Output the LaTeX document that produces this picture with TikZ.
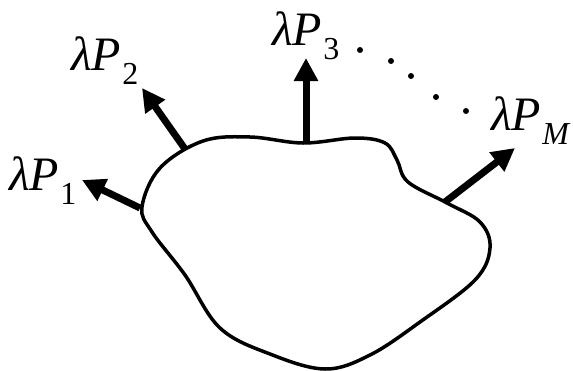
\documentclass[tikz,border=0pt]{standalone}
\usepackage{fontspec}
\setmainfont{Liberation Serif}
\usetikzlibrary{arrows.meta}
\newcommand\lamP[1]{\fontsize{48}{48}\selectfont\itshape λP\/\upshape\kern1pt\raisebox{-14pt}{\fontsize{32}{32}\selectfont #1}}
\tikzset{
  force/.style={line width=7pt,-{Triangle[length=23pt,width=23pt]}},
  blob/.style={line width=3.5pt},
  lbl/.style={anchor=base west,inner sep=0pt},
  dotc/.style={fill=black}
}
\begin{document}
\begin{tikzpicture}[x=1pt,y=-1pt]
\useasboundingbox (0,0) rectangle (573,370);
\draw[blob] plot[smooth cycle,tension=0.6] coordinates {
 (142,207) (160,168) (203,141) (250,137) (303,143) (355,138) (385,143) (397,160) (408,182) (447,203) (480,222) (490,248) (475,280) (420,322) (370,355) (325,369) (270,354) (220,328) (185,275) (152,232)};
\coordinate (b1) at (140,208); \coordinate (t1) at (82,180);
\coordinate (b2) at (185,149); \coordinate (t2) at (142,88);
\coordinate (b3) at (306,142); \coordinate (t3) at (306,58);
\coordinate (bM) at (445,202); \coordinate (tM) at (515,148);
\draw[force] (b1) -- (t1);
\draw[force] (b2) -- (t2);
\draw[force] (b3) -- (t3);
\draw[force] (bM) -- (tM);
\node[lbl] (l1) at (9,190) {\lamP{1}};
\node[lbl] (l2) at (71,70) {\lamP{2}};
\node[lbl] (l3) at (272,45) {\lamP{3}};
\node[lbl] (lM) at (491,130) {\lamP{\itshape M}};
\foreach \p in {(360,50),(391,61),(411,76),(436,97),(466,111)}
  \fill[dotc] \p circle (3);
\end{tikzpicture}
\end{document}
